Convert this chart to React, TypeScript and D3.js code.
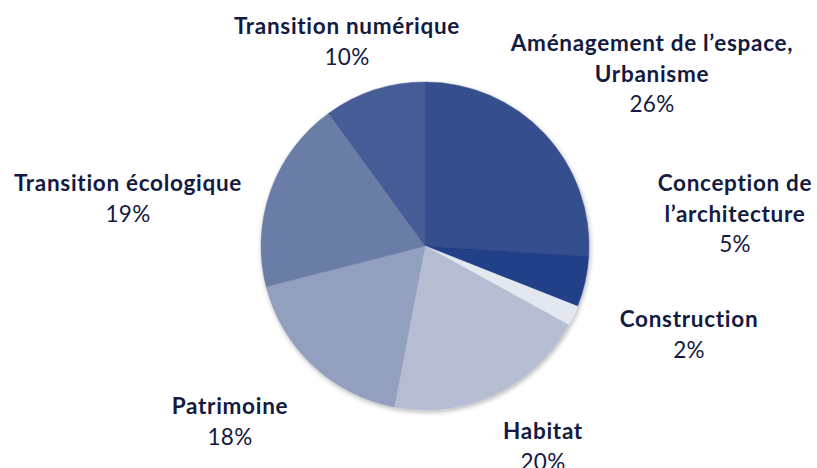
import React from "react";
import * as d3 from "d3";

const categories = [
  "Aménagement de l’espace, Urbanisme",
  "Conception de l’architecture",
  "Construction",
  "Habitat",
  "Patrimoine",
  "Transition écologique",
  "Transition numérique",
];
const values = [26, 5, 2, 20, 18, 19, 10];
const labelLines = [
  ["Aménagement de l’espace,", "Urbanisme"],
  ["Conception de", "l’architecture"],
  ["Construction"],
  ["Habitat"],
  ["Patrimoine"],
  ["Transition écologique"],
  ["Transition numérique"],
];
const colors = ["#344f8e", "#233f88", "#e3e7f0", "#b5bdd3", "#929fbf", "#6b7da7", "#455c96"];

// label layout (x center, y baseline of first line)
const labelPos: [number, number][] = [
  [652, 51],
  [735, 191],
  [689, 327],
  [543, 439],
  [230, 414],
  [128, 191],
  [347, 34],
];

const W = 817;
const H = 468;
const CX = 425;
const CY = 246;
const R = 164;
const LINE = 30.5;

export default function App() {
  const pie = d3
    .pie<number>()
    .sort(null)
    .value((d) => d)
    .startAngle(0)
    .endAngle(2 * Math.PI);
  const arcs = pie(values);
  const arc = d3.arc<d3.PieArcDatum<number>>().innerRadius(0).outerRadius(R);
  const total = d3.sum(values);
  const fmt = d3.format(".0%");

  return (
    <svg
      width={W}
      height={H}
      style={{ position: "absolute", left: 0, top: 0, background: "#fff" }}
      fontFamily="Lato, 'Open Sans', sans-serif"
    >
      <defs>
        <filter id="sh" x="-20%" y="-20%" width="140%" height="140%">
          <feGaussianBlur in="SourceAlpha" stdDeviation="2.5" />
          <feOffset dx="1" dy="1.5" result="b" />
          <feComponentTransfer>
            <feFuncA type="linear" slope="0.3" />
          </feComponentTransfer>
          <feMerge>
            <feMergeNode />
            <feMergeNode in="SourceGraphic" />
          </feMerge>
        </filter>
      </defs>
      <g transform={`translate(${CX},${CY})`} filter="url(#sh)">
        {arcs.map((a, i) => (
          <path key={categories[i]} d={arc(a) || ""} fill={colors[i]} stroke={colors[i]} strokeWidth={0.5} />
        ))}
      </g>
      {arcs.map((a, i) => {
        const [x, y] = labelPos[i];
        const lines = labelLines[i];
        return (
          <text key={"l" + i} x={x} y={y} textAnchor="middle" fill="#141a40" fontSize={22.5}>
            {lines.map((l, j) => (
              <tspan key={j} x={x} y={y + j * LINE} fontWeight={700} letterSpacing={0.7}>
                {l}
              </tspan>
            ))}
            <tspan x={x} y={y + lines.length * LINE} fontWeight={400} letterSpacing={0.3}>
              {fmt(a.data / total)}
            </tspan>
          </text>
        );
      })}
    </svg>
  );
}
